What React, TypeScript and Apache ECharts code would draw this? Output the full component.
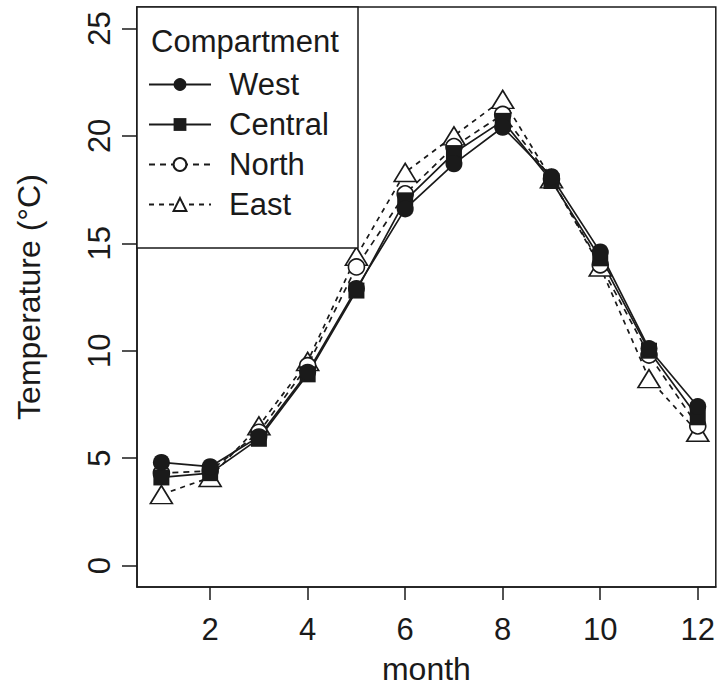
import React, { useEffect, useRef } from "react";
import * as echarts from "echarts";

const months = [1, 2, 3, 4, 5, 6, 7, 8, 9, 10, 11, 12];
const west = [4.8, 4.6, 6.0, 9.0, 12.9, 16.6, 18.7, 20.4, 18.1, 14.6, 10.1, 7.4];
const central = [4.1, 4.3, 5.9, 8.9, 12.8, 17.0, 19.2, 20.7, 17.9, 14.3, 10.0, 6.9];
const north = [4.3, 4.4, 6.2, 9.3, 13.9, 17.3, 19.5, 21.0, 18.0, 14.0, 9.8, 6.5];
const east = [3.3, 4.1, 6.5, 9.5, 14.4, 18.3, 20.0, 21.7, 18.0, 13.9, 8.7, 6.2];
const xTicks = [2, 4, 6, 8, 10, 12];
const yTicks = [0, 5, 10, 15, 20, 25];

const FONT = "Liberation Sans, Arial, sans-serif";
const INK = "#1a1a1a";

export default function App() {
  const ref = useRef<HTMLDivElement>(null);
  useEffect(() => {
    if (!ref.current) return;
    const chart = echarts.init(ref.current, undefined, { renderer: "svg" });
    const pts = (arr: number[]) => months.map((m, i) => [m, arr[i]]);
    const mk = (name: string, arr: number[], symbol: string, size: any, filled: boolean, dash: any, z: number) => ({
      name,
      type: "line",
      data: pts(arr),
      symbol,
      symbolSize: size,
      z,
      lineStyle: { color: INK, width: 1.7, type: dash },
      itemStyle: { color: filled ? INK : "#ffffff", borderColor: INK, borderWidth: filled ? 0 : 1.6 },
      emphasis: { disabled: true },
    });
    chart.setOption({
      animation: false,
      textStyle: { fontFamily: FONT },
      grid: { left: 137, right: 2, top: 7, bottom: 107, show: true, borderColor: INK, borderWidth: 1.5, backgroundColor: "transparent" },
      xAxis: {
        type: "value",
        min: 0.5,
        max: 12.37,
        name: "month",
        nameLocation: "middle",
        nameGap: 66,
        nameTextStyle: { fontSize: 32, color: INK, fontFamily: FONT },
        axisLine: { show: true, onZero: false, lineStyle: { color: INK, width: 1.5 } },
        axisTick: { show: true, length: 13, customValues: xTicks, lineStyle: { color: INK, width: 1.5 } },
        axisLabel: { customValues: xTicks, fontSize: 31, color: INK, margin: 27, fontFamily: FONT },
        splitLine: { show: false },
      },
      yAxis: {
        type: "value",
        min: -1,
        max: 26,
        name: "Temperature (°C)",
        nameLocation: "middle",
        nameGap: 92,
        nameRotate: 90,
        nameTextStyle: { fontSize: 32, color: INK, fontFamily: FONT },
        axisLine: { show: true, onZero: false, lineStyle: { color: INK, width: 1.5 } },
        axisTick: { show: true, length: 15, customValues: yTicks, lineStyle: { color: INK, width: 1.5 } },
        axisLabel: { customValues: yTicks, fontSize: 31, color: INK, rotate: 90, margin: 22, fontFamily: FONT },
        splitLine: { show: false },
      },
      graphic: [
        {
          type: "rect",
          shape: { x: 137, y: 7, width: 221, height: 241 },
          style: { stroke: INK, lineWidth: 1.5, fill: "#ffffff" },
          z: 3,
        },
        {
          type: "text",
          x: 151,
          y: 41,
          style: { text: "Compartment", fontSize: 31, fill: INK, fontFamily: FONT, textVerticalAlign: "middle" },
          z: 6,
        },
      ],
      legend: {
        orient: "vertical",
        left: 143,
        top: 64,
        itemWidth: 62,
        itemHeight: 16,
        itemGap: 9,
        data: ["West", "Central", "North", "East"],
        textStyle: { fontSize: 31, color: INK, fontFamily: FONT, padding: [0, 0, 0, 13] },
        z: 6,
      },
      series: [
        mk("East", east, "triangle", [22, 18], false, [5, 5], 2),
        mk("North", north, "circle", 16, false, [6, 5], 2),
        mk("Central", central, "rect", 16, true, "solid", 2),
        mk("West", west, "circle", 17, true, "solid", 2),
      ],
    });
    return () => chart.dispose();
  }, []);
  return (
    <div style={{ position: "absolute", left: 0, top: 0 }}>
      <div ref={ref} style={{ width: 718, height: 694 }} />
    </div>
  );
}
